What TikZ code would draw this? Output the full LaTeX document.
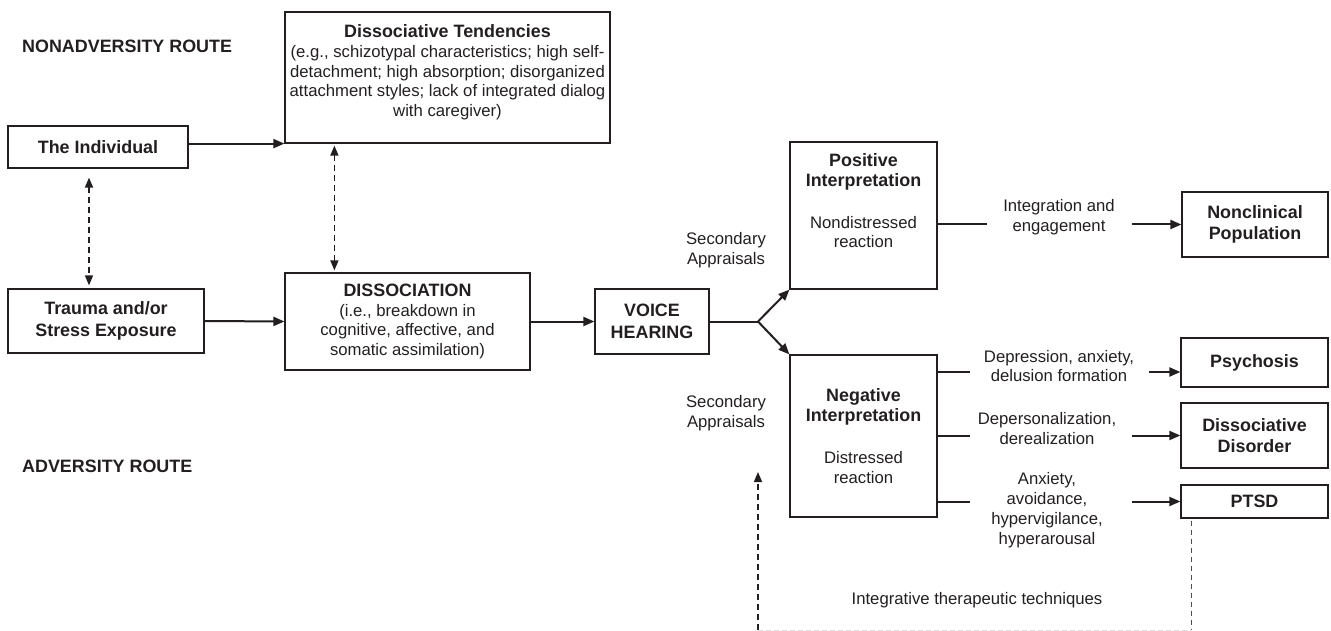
\documentclass[tikz,border=0pt]{standalone}
\usepackage{fontspec}
\setmainfont{Liberation Sans}
\usetikzlibrary{arrows.meta,calc}

\definecolor{ink}{HTML}{231F20}
\newcommand\boldline[1]{{\fontsize{17.9}{20.5}\selectfont\bfseries #1}}

\tikzset{
  box/.style={draw=ink, line width=1.2pt, align=center, inner sep=0pt},
  heading/.style={font=\fontsize{17.9}{21.5}\selectfont\bfseries},
  txt/.style={align=center, inner sep=0pt},
  conn/.style={draw=ink, line width=2pt},
  arr/.style={conn, -{Triangle[length=11pt,width=9pt]}},
  dasharr/.style={draw=ink, line width=1.5pt, dash pattern=on 6pt off 4pt,
    {Triangle[length=10pt,width=8pt]}-{Triangle[length=10pt,width=8pt]}},
  feed/.style={draw=ink, line width=1.5pt, dash pattern=on 6pt off 4pt,
    -{Triangle[length=10pt,width=8pt]}},
  thindash/.style={draw=ink!80, line width=0.9pt, dash pattern=on 5pt off 4pt},
  faint/.style={draw=ink!15, line width=1pt, dash pattern=on 5pt off 3pt}
}

\begin{document}
\begin{tikzpicture}[x=1pt, y=-1pt, font=\fontsize{16.7}{19.8}\selectfont, text=ink]
  \useasboundingbox (0,0) rectangle (1331,631);

  % routes
  \node[txt, heading, anchor=west] (nonadv) at (22,46) {NONADVERSITY ROUTE};
  \node[txt, heading, anchor=west] (adv) at (22,466) {ADVERSITY ROUTE};

  % left part
  \node[box, heading, minimum width=180, minimum height=42] (indiv) at (98,147) {The Individual};
  \node[box, heading, minimum width=196, minimum height=64] (trauma) at (106,321) {Trauma and/or\\Stress Exposure};

  \node[box, minimum width=325, minimum height=131] (tend) at (447.5,77.5) {};
  \node[txt, anchor=north] (tendtext) at ($(tend.north)+(0,13)$)
    {\boldline{Dissociative Tendencies}\\(e.g., schizotypal characteristics; high self-\\detachment; high absorption; disorganized\\attachment styles; lack of integrated dialog\\with caregiver)};

  \node[box, minimum width=245, minimum height=97] (dissoc) at (407.5,321.5)
    {\boldline{DISSOCIATION}\\(i.e., breakdown in\\cognitive, affective, and\\somatic assimilation)};
  \node[box, heading, minimum width=114, minimum height=65] (voice) at (652,321.5) {VOICE\\HEARING};

  % interpretations
  \node[box, minimum width=147, minimum height=147] (pos) at (863.5,215.5) {};
  \node[txt, anchor=north] (postext) at ($(pos.north)+(0,12)$)
    {\boldline{Positive}\\\boldline{Interpretation}\\[22pt]Nondistressed\\reaction};
  \node[box, minimum width=147, minimum height=162] (neg) at (863.5,436)
    {\boldline{Negative}\\\boldline{Interpretation}\\[22pt]Distressed\\reaction};

  % outcomes
  \node[box, heading, minimum width=146, minimum height=65] (nonclin) at (1255,224.5) {Nonclinical\\Population};
  \node[box, heading, minimum width=147, minimum height=49] (psych) at (1254.5,362.5) {Psychosis};
  \node[box, heading, minimum width=147, minimum height=65] (disdis) at (1254.5,435.5) {Dissociative\\Disorder};
  \node[box, heading, minimum width=147, minimum height=33] (ptsd) at (1254.5,501.5) {PTSD};

  % labels
  \node[txt] (sec1) at (726,250) {Secondary\\Appraisals};
  \node[txt] (sec2) at (726,413.5) {Secondary\\Appraisals};
  \node[txt] (integ) at (1059,217.5) {Integration and\\engagement};
  \node[txt] (deplbl) at (1059,366) {Depression, anxiety,\\delusion formation};
  \node[txt] (derlbl) at (1047,428.5) {Depersonalization,\\derealization};
  \node[txt] (anxlbl) at (1047,510) {Anxiety,\\avoidance,\\hypervigilance,\\hyperarousal};
  \node[txt] (therap) at (977,600) {Integrative therapeutic techniques};

  % main flow
  \draw[arr] (indiv.east |- tend.south) -- (tend.south west);
  \draw[arr] (trauma.east) -- (dissoc.west);
  \draw[arr] (dissoc.east) -- (voice.west);
  \coordinate (fork) at (758,321.5);
  \draw[conn] (voice.east) -- (fork);
  \draw[arr] (fork) -- (pos.south west);
  \draw[arr] (fork) -- (neg.north west);

  \draw[dasharr, shorten <=9pt, shorten >=3pt] ([xshift=-9pt]indiv.south) -- ([xshift=-9pt]indiv.south |- trauma.north);
  \draw[dasharr, shorten <=2pt, shorten >=2pt] ([xshift=50pt]tend.south west) -- ([xshift=50pt]tend.south west |- dissoc.north);

  % outcome arrows
  \coordinate (r0) at (nonclin.west);
  \coordinate (r1) at ([yshift=-9.5pt]psych.west);
  \coordinate (r2) at (disdis.west);
  \coordinate (r3) at (ptsd.west);
  \draw[conn] (pos.east |- r0) -- ++(49,0);
  \draw[arr] ([xshift=-49pt]r0) -- (r0);
  \foreach \r/\len in {r1/31, r2/48, r3/48}{
    \draw[conn] (neg.east |- \r) -- ++(32,0);
    \draw[arr] ([xshift=-\len pt]\r) -- (\r);
  }

  % therapy loop
  \coordinate (bot) at (0,630);
  \coordinate (fbtip) at (758,472);
  \coordinate (ptsdx) at ([xshift=11pt]ptsd.south west);
  \draw[feed] (fork |- bot) -- (fbtip);
  \draw[faint] (fork |- bot) -- (ptsdx |- bot);
  \draw[thindash] ([yshift=-2pt]ptsdx) -- (ptsdx |- bot);
\end{tikzpicture}
\end{document}
